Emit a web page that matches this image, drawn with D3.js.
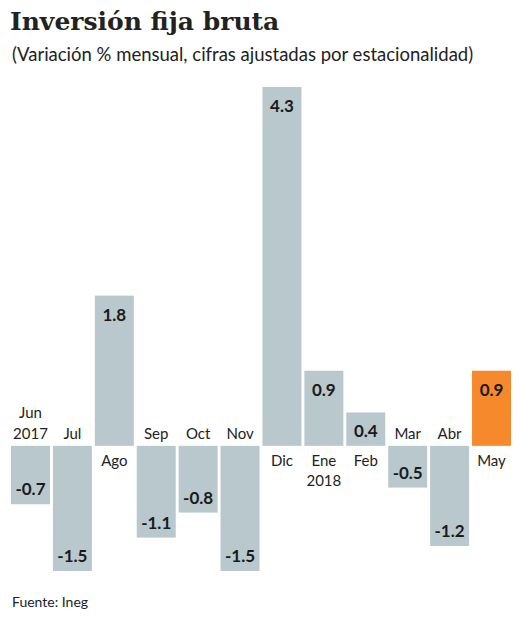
<!DOCTYPE html>
<html><head><meta charset="utf-8">
<script src="https://cdn.jsdelivr.net/npm/d3@7"></script>
<style>body{margin:0;background:#fff;}</style>
</head><body>
<script>
// datos
var meses = ["Jun","Jul","Ago","Sep","Oct","Nov","Dic","Ene","Feb","Mar","Abr","May"];
var anios = ["2017","","","","","","","2018","","","",""];
var valores = [-0.7,-1.5,1.8,-1.1,-0.8,-1.5,4.3,0.9,0.4,-0.5,-1.2,0.9];

var width = 521, height = 620;
var svg = d3.select("body").append("svg").attr("width", width).attr("height", height);

svg.append("text").attr("x",10).attr("y",30)
  .style("font-family","'DejaVu Serif', serif").style("font-weight","bold").style("font-size","25px")
  .attr("fill","#222").text("Inversión fija bruta");
svg.append("text").attr("x",12).attr("y",61)
  .style("font-family","Lato, sans-serif").style("font-size","18.5px")
  .attr("fill","#222").text("(Variación % mensual, cifras ajustadas por estacionalidad)");

var x = d3.scaleBand().domain(meses).range([11,511]).paddingInner(0.07);
var y = d3.scaleLinear().domain([-1.5,4.3]).range([571,87]);

var g = svg.append("g");
g.selectAll("rect").data(valores).enter().append("rect")
  .attr("x",function(d,i){return x(meses[i]);})
  .attr("width",x.bandwidth())
  .attr("y",function(d){return y(Math.max(0,d));})
  .attr("height",function(d){return Math.abs(y(d)-y(0));})
  .attr("fill",function(d,i){return i==meses.length-1 ? "#f6892b" : "#b9c8cc";});

// valores
g.selectAll(".val").data(valores).enter().append("text")
  .attr("x",function(d,i){return x(meses[i])+x.bandwidth()/2;})
  .attr("y",function(d){return d>0 ? y(d)+25 : y(d)-9;})
  .attr("text-anchor","middle")
  .style("font-family","Lato, sans-serif").style("font-weight","bold").style("font-size","17px")
  .attr("fill","#1a1a1a").text(function(d){return d.toFixed(1);});

// meses
meses.forEach(function(m,i){
  var cx = x(m)+x.bandwidth()/2, d = valores[i];
  var t = g.append("text").attr("text-anchor","middle")
    .style("font-family","Lato, sans-serif").style("font-size","15px").attr("fill","#222");
  if(d>0){
    t.attr("x",cx).attr("y",y(0)+20).text(m);
    if(anios[i]) g.append("text").attr("text-anchor","middle").attr("x",cx).attr("y",y(0)+40)
      .style("font-family","Lato, sans-serif").style("font-size","15px").attr("fill","#222").text(anios[i]);
  } else {
    if(anios[i]){
      t.attr("x",cx).attr("y",y(0)-28).text(m);
      g.append("text").attr("text-anchor","middle").attr("x",cx).attr("y",y(0)-7)
        .style("font-family","Lato, sans-serif").style("font-size","15px").attr("fill","#222").text(anios[i]);
    } else t.attr("x",cx).attr("y",y(0)-7).text(m);
  }
});

svg.append("text").attr("x",12).attr("y",607)
  .style("font-family","Lato, sans-serif").style("font-size","14px").attr("fill","#222").text("Fuente: Ineg");
</script>
</body></html>
